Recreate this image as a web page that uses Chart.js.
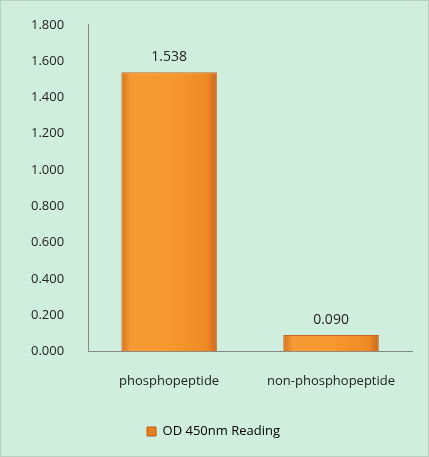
<!DOCTYPE html>
<html>
<head>
<meta charset="utf-8">
<script src="https://cdn.jsdelivr.net/npm/chart.js@4"></script>
<style>
  html, body { margin: 0; padding: 0; background: #fff; }
  #wrap { width: 427px; height: 455px; border: 1px solid #b9cfc2; background: #cfeedd; }
</style>
</head>
<body>
<div id="wrap"><canvas id="c" width="427" height="455"></canvas></div>
<script>
const categories = ['phosphopeptide', 'non-phosphopeptide'];
const values = [1.538, 0.090];
const seriesName = 'OD 450nm Reading';

// value labels above each bar
const valueLabels = {
    id: 'valueLabels',
    afterDatasetsDraw(chart) {
        const ctx = chart.ctx;
        const meta = chart.getDatasetMeta(0);
        ctx.save();
        ctx.font = '14px "Open Sans", sans-serif';
        ctx.fillStyle = '#222';
        ctx.textAlign = 'center';
        ctx.textBaseline = 'bottom';
        meta.data.forEach((bar, i) => {
            ctx.fillText(values[i].toFixed(3), bar.x, bar.y - 8);
        });
        ctx.restore();
    }
};

function barFill(context) {
    const { chart } = context;
    const xs = chart.scales && chart.scales.x;
    if (!chart.chartArea || !xs || context.dataIndex == null) return '#f0902a';
    const cx = xs.getPixelForValue(context.dataIndex);
    const w = (xs.width / categories.length) * 0.59;
    if (!isFinite(cx) || !isFinite(w)) return '#f0902a';
    const g = chart.ctx.createLinearGradient(cx - w / 2, 0, cx + w / 2, 0);
    g.addColorStop(0, '#d8731a');
    g.addColorStop(0.1, '#f59a35');
    g.addColorStop(0.5, '#f7992f');
    g.addColorStop(0.9, '#ee8a24');
    g.addColorStop(1, '#c9661a');
    return g;
}

new Chart(document.getElementById('c'), {
    type: 'bar',
    data: {
        labels: categories,
        datasets: [{
            label: seriesName,
            data: values,
            backgroundColor: barFill,
            borderColor: '#c8661c',
            borderWidth: 1,
            barPercentage: 0.59,
            categoryPercentage: 1
        }]
    },
    options: {
        responsive: false,
        animation: false,
        layout: { padding: { top: 18, right: 16, left: 14, bottom: 8 } },
        plugins: {
            legend: {
                position: 'bottom',
                labels: {
                    boxWidth: 9, boxHeight: 9, padding: 22,
                    color: '#222',
                    font: { family: '"Open Sans", sans-serif', size: 13 },
                    generateLabels: () => [{ text: seriesName, fillStyle: '#e8801f', strokeStyle: '#b85c14', lineWidth: 1 }]
                }
            },
            tooltip: { enabled: false }
        },
        scales: {
            y: {
                min: 0, max: 1.8,
                ticks: {
                    stepSize: 0.2,
                    color: '#222',
                    padding: 16,
                    font: { family: '"Open Sans", sans-serif', size: 13 },
                    callback: v => v.toFixed(3)
                },
                grid: { display: false },
                border: { display: true, color: '#888' }
            },
            x: {
                ticks: {
                    color: '#222',
                    padding: 14,
                    font: { family: '"Open Sans", sans-serif', size: 13 }
                },
                grid: { display: false },
                border: { display: true, color: '#888' }
            }
        }
    },
    plugins: [valueLabels]
});
</script>
</body>
</html>
